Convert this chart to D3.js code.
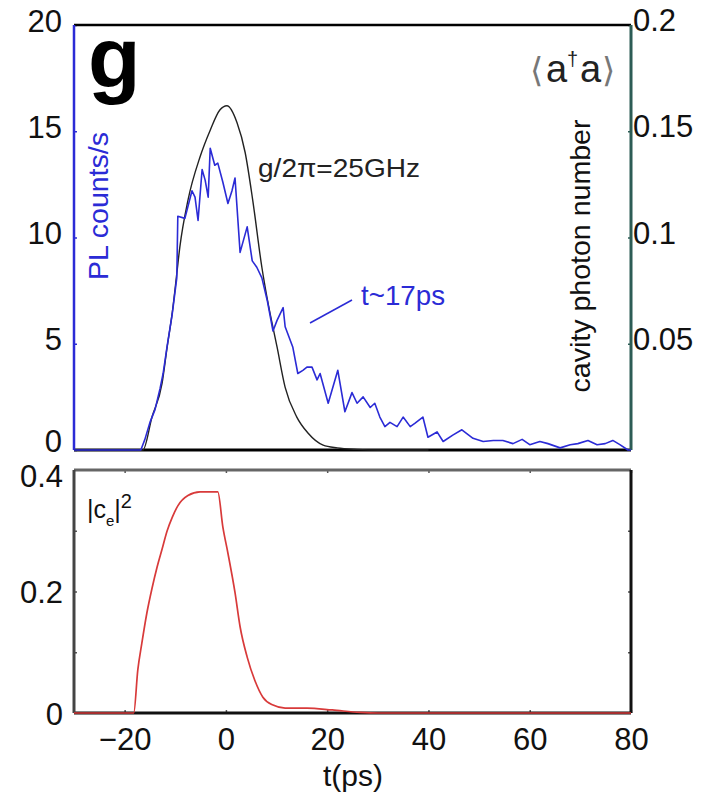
<!DOCTYPE html>
<html>
<head>
<meta charset="utf-8">
<script src="https://cdn.jsdelivr.net/npm/d3@7"></script>
<style>
  body { margin: 0; background: #fff; }
  svg { display: block; }
  text { font-family: "Liberation Sans", Arial, Helvetica, sans-serif; }
</style>
</head>
<body>
<svg id="chart" width="701" height="796"></svg>
<script>
// ---------------- data ----------------
const xTicks = [-20, 0, 20, 40, 60, 80];
const leftTicksTop = [0, 5, 10, 15, 20];
const rightTicksTop = [0.05, 0.1, 0.15, 0.2];
const leftTicksBot = [0, 0.2, 0.4];
const minorTicksBot = [0.1, 0.2, 0.3];

// cavity photon number model (black), t in ps, value in PL-count units (right axis = value/100)
const blackT = [-30, -16.4, -14.6, -12.6, -11.6, -10.6, -9.7, -9.1, -7.5, -5.1, -3.1, -1.2, 0.2, 2.2, 3.8, 5.3, 7.1, 8.1, 10.1, 11.7, 14.0, 16.2, 19.2, 22, 25.9, 30, 40];
const blackV = [0, 0, 1.55, 3.15, 4.85, 6.45, 8.3, 9.55, 11.75, 13.8, 15.05, 16.0, 16.2, 15.4, 14.0, 11.75, 8.6, 7.2, 4.85, 2.95, 1.55, 0.8, 0.23, 0.1, 0.03, 0, 0];

// measured PL counts/s (blue)
const blueT = [-30, -16.8, -16, -15, -14, -13, -12.4, -11.6, -10.6, -9.7, -9.5, -8.1, -6.7, -6.1, -5.5, -4.7, -4.1, -3.5, -3.1, -2.2, -1.6, -0.6, 0.4, 1.2, 1.8, 2.8, 4.2, 5.2, 6.1, 7.1, 8.2, 9.3, 10.1, 11.3, 11.7, 13.2, 14.2, 15.2, 16.0, 17, 18, 18.6, 20.2, 22.1, 23.5, 24.9, 25.9, 27.1, 28.5, 29.4, 30.4, 31.4, 32.4, 33.8, 35, 36.4, 37.3, 38.9, 39.9, 41.7, 42.9, 44.8, 46.6, 48.8, 50.8, 52.8, 54.7, 56.7, 58.5, 60, 62, 63.6, 66, 68, 69.5, 71.5, 73.3, 74.9, 76.4, 77.8, 79.4, 80];
const blueV = [0, 0, 0.5, 1.3, 1.9, 2.9, 3.6, 4.9, 6.4, 8.1, 11.0, 10.9, 12.2, 11.9, 10.8, 13.2, 12.7, 11.9, 14.2, 13.4, 13.5, 12.6, 11.6, 12.2, 12.8, 9.3, 10.5, 8.9, 8.6, 8.1, 7.0, 5.6, 6.1, 6.7, 5.8, 4.85, 3.6, 3.75, 3.9, 3.9, 3.3, 3.6, 2.2, 3.75, 1.8, 2.7, 2.2, 2.5, 2.0, 2.2, 1.55, 1.1, 1.3, 1.1, 1.55, 1.1, 1.25, 1.55, 0.6, 0.85, 0.4, 0.7, 0.95, 0.55, 0.4, 0.45, 0.45, 0.3, 0.5, 0.25, 0.4, 0.3, 0.1, 0.25, 0.3, 0.45, 0.25, 0.3, 0.45, 0.25, 0, 0];

// |c_e|^2 (red)
const redT = [-30, -18.2, -17.4, -16.6, -15.6, -14.6, -13.6, -12.6, -11.6, -10.6, -9.5, -7.5, -5.1, -3.1, -1.6, -0.6, 0.4, 1.8, 2.8, 4.2, 5.7, 7.3, 9.3, 11.7, 16, 21, 26.5, 30, 80];
const redV = [0, 0, 0.071, 0.115, 0.165, 0.205, 0.24, 0.27, 0.3, 0.322, 0.341, 0.358, 0.364, 0.364, 0.364, 0.306, 0.263, 0.198, 0.142, 0.092, 0.054, 0.026, 0.013, 0.008, 0.008, 0.005, 0.001, 0, 0];

// ---------------- scales ----------------
const svg = d3.select("#chart");
svg.append("rect").attr("width", 701).attr("height", 796).attr("fill", "#fff");

const x = d3.scaleLinear().domain([-30, 80]).range([74, 631]);
const yTop = d3.scaleLinear().domain([0, 20]).range([450, 25]);
const yRight = d3.scaleLinear().domain([0, 0.2]).range([450, 25]);
const yBot = d3.scaleLinear().domain([0, 0.4]).range([713, 470]);

const FS = 31;
const blue = "#2b2bd6";
const teal = "#2c5c55";

function styleAxis(g, color) {
  g.select(".domain").remove();
  g.selectAll(".tick line").attr("stroke", color).attr("stroke-width", 1.5);
  g.selectAll(".tick text").attr("fill", "#111").attr("font-size", FS)
    .attr("font-family", "Liberation Sans, Arial, sans-serif");
}

// ---------------- top panel ----------------
const gTop = svg.append("g");
const [xl, xr] = x.range();
const [ytb, ytt] = yTop.range();

const lineBlack = d3.line().x((d, i) => x(blackT[i])).y(d => yTop(d)).curve(d3.curveMonotoneX);
const lineBlue = d3.line().x((d, i) => x(blueT[i])).y(d => yTop(d));
const lineRed = d3.line().x((d, i) => x(redT[i])).y(d => yBot(d)).curve(d3.curveMonotoneX);

const axL = gTop.append("g").attr("transform", `translate(${xl},0)`)
  .call(d3.axisLeft(yTop).tickValues(leftTicksTop).tickSize(-3).tickPadding(12).tickFormat(d3.format("d")));
styleAxis(axL, blue);
axL.selectAll(".tick text").attr("dy", d => d === 0 ? "1px" : "0.2em");

const axR = gTop.append("g").attr("transform", `translate(${xr},0)`)
  .call(d3.axisRight(yRight).tickValues(rightTicksTop).tickSize(-3).tickPadding(2).tickFormat(d => String(d)));
styleAxis(axR, teal);
axR.selectAll(".tick text").attr("dy", "0.18em");

gTop.append("line").attr("x1", xl).attr("x2", xr).attr("y1", ytt).attr("y2", ytt).attr("stroke", "#000").attr("stroke-width", 2.5);
gTop.append("line").attr("x1", xl).attr("x2", xr).attr("y1", ytb).attr("y2", ytb).attr("stroke", "#000").attr("stroke-width", 3);
gTop.append("line").attr("x1", xl).attr("x2", xl).attr("y1", ytt).attr("y2", ytb).attr("stroke", blue).attr("stroke-width", 2.5);
gTop.append("line").attr("x1", xr).attr("x2", xr).attr("y1", ytt).attr("y2", ytb).attr("stroke", teal).attr("stroke-width", 3);

gTop.append("path").attr("d", lineBlack(blackV)).attr("fill", "none").attr("stroke", "#222").attr("stroke-width", 1.4);
gTop.append("path").attr("d", lineBlue(blueV)).attr("fill", "none").attr("stroke", blue).attr("stroke-width", 1.6).attr("stroke-linejoin", "round");

gTop.append("text").attr("x", 88).attr("y", 87).attr("font-size", 86).attr("font-weight", "bold").attr("fill", "#000").text("g");

const ata = gTop.append("text").attr("y", 82).attr("font-size", 38).attr("fill", "#222");
ata.append("tspan").attr("x", 530).attr("fill", "#777").attr("font-family", "DejaVu Sans").attr("font-size", 34).text("⟨");
ata.append("tspan").attr("x", 546).text("a");
ata.append("tspan").attr("x", 567).attr("dy", -16).attr("font-size", 20).text("†");
ata.append("tspan").attr("x", 580).attr("dy", 16).text("a");
ata.append("tspan").attr("x", 602).attr("fill", "#777").attr("font-family", "DejaVu Sans").attr("font-size", 34).text("⟩");

gTop.append("text").attr("x", 258).attr("y", 177).attr("font-size", 25).attr("fill", "#222")
  .attr("textLength", 162).attr("lengthAdjust", "spacingAndGlyphs").text("g/2π=25GHz");

gTop.append("text").attr("x", 361).attr("y", 305).attr("font-size", 28).attr("fill", blue)
  .attr("textLength", 84).attr("lengthAdjust", "spacingAndGlyphs").text("t~17ps");
gTop.append("line").attr("x1", 310).attr("y1", 323).attr("x2", 352).attr("y2", 300).attr("stroke", blue).attr("stroke-width", 1.5);

gTop.append("text").attr("transform", "translate(108,206) rotate(-90)").attr("text-anchor", "middle")
  .attr("font-size", 28).attr("fill", blue).attr("textLength", 148).attr("lengthAdjust", "spacingAndGlyphs").text("PL counts/s");

gTop.append("text").attr("transform", "translate(590,256) rotate(-90)").attr("text-anchor", "middle")
  .attr("font-size", 28).attr("fill", "#111").attr("textLength", 273).attr("lengthAdjust", "spacingAndGlyphs").text("cavity photon number");

// ---------------- bottom panel ----------------
const gBot = svg.append("g");
const [ybb, ybt] = yBot.range();

const axBL = gBot.append("g").attr("transform", `translate(${xl},0)`)
  .call(d3.axisLeft(yBot).tickValues(leftTicksBot).tickSize(0).tickPadding(11).tickFormat(d => String(d)));
styleAxis(axBL, "#333");
axBL.selectAll(".tick text").attr("dy", d => d === 0.4 ? "16px" : "0.36em");

const axBLm = gBot.append("g").attr("transform", `translate(${xl},0)`)
  .call(d3.axisLeft(yBot).tickValues(minorTicksBot).tickSize(-3).tickFormat(""));
styleAxis(axBLm, "#555");
const axBRm = gBot.append("g").attr("transform", `translate(${xr},0)`)
  .call(d3.axisRight(yBot).tickValues(minorTicksBot).tickSize(-3).tickFormat(""));
styleAxis(axBRm, "#555");

const axBB = gBot.append("g").attr("transform", `translate(0,${ybb})`)
  .call(d3.axisBottom(x).tickValues(xTicks).tickSize(-3).tickPadding(15).tickFormat(d3.format("d")));
styleAxis(axBB, "#555");
const axBT = gBot.append("g").attr("transform", `translate(0,${ybt})`)
  .call(d3.axisTop(x).tickValues(xTicks).tickSize(-3).tickFormat(""));
styleAxis(axBT, "#555");

gBot.append("line").attr("x1", xl).attr("x2", xr).attr("y1", ybt).attr("y2", ybt).attr("stroke", "#666").attr("stroke-width", 3);
gBot.append("line").attr("x1", xl).attr("x2", xr).attr("y1", ybb).attr("y2", ybb).attr("stroke", "#111").attr("stroke-width", 3);
gBot.append("line").attr("x1", xl).attr("x2", xl).attr("y1", ybt).attr("y2", ybb).attr("stroke", "#444").attr("stroke-width", 3);
gBot.append("line").attr("x1", xr).attr("x2", xr).attr("y1", ybt).attr("y2", ybb).attr("stroke", "#111").attr("stroke-width", 3);

gBot.append("path").attr("d", lineRed(redV)).attr("fill", "none").attr("stroke", "#d83a3a").attr("stroke-width", 1.7);

const ce = gBot.append("text").attr("x", 87).attr("y", 518).attr("font-size", 25).attr("fill", "#111");
ce.append("tspan").text("|c");
ce.append("tspan").attr("dy", 8).attr("font-size", 15).text("e");
ce.append("tspan").attr("dy", -8).text("|");
ce.append("tspan").attr("dy", -10).attr("font-size", 20).text("2");

gBot.append("text").attr("x", 353).attr("y", 786).attr("text-anchor", "middle").attr("font-size", 30).attr("fill", "#111").text("t(ps)");
</script>
</body>
</html>
